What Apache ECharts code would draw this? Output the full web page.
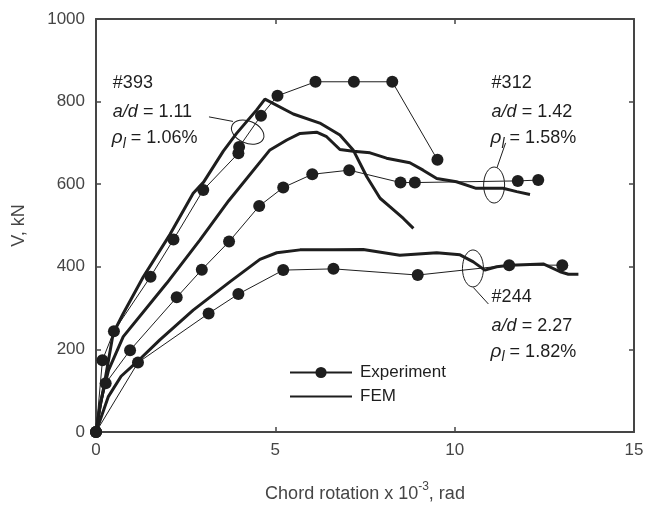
<!DOCTYPE html>
<html>
<head>
<meta charset="utf-8">
<script src="https://cdn.jsdelivr.net/npm/echarts@6/dist/echarts.min.js"></script>
<style>
  html, body { margin: 0; padding: 0; background: #fff; }
  #chart { width: 648px; height: 507px; }
</style>
</head>
<body>
<div id="chart"></div>
<script>
// x: chord rotation (x 10^-3 rad), y: shear V (kN)
const xTicks = [0, 5, 10, 15];
const yTicks = [0, 200, 400, 600, 800, 1000];

// experiment points
const exp393 = [[0, 0], [0.18, 174], [0.5, 244], [1.52, 376], [2.16, 466], [2.99, 586], [3.97, 675], [3.99, 690], [4.6, 766], [5.06, 814], [6.12, 848], [7.19, 848], [8.26, 848], [9.52, 659]];
const exp312 = [[0, 0], [0.27, 118], [0.95, 198], [2.25, 326], [2.95, 393], [3.71, 461], [4.55, 547], [5.22, 592], [6.03, 624], [7.06, 634], [8.49, 604], [8.89, 604], [11.76, 608], [12.33, 610]];
const exp244 = [[0, 0], [1.17, 168], [3.14, 287], [3.97, 334], [5.22, 392], [6.62, 395], [8.97, 380], [11.52, 404], [13.0, 404]];

// FEM curves
const fem393 = [[0, 0], [0.12, 65], [0.25, 125], [0.48, 239], [0.76, 287], [1.32, 376], [2.06, 478], [2.71, 578], [3.0, 605], [3.55, 680], [3.92, 723], [4.48, 780], [4.71, 806], [5.5, 770], [6.24, 748], [6.8, 719], [7.17, 683], [7.55, 618], [7.92, 566], [8.2, 545], [8.57, 517], [8.85, 493]];
const fem312 = [[0, 0], [0.12, 70], [0.35, 150], [0.76, 231], [1.97, 360], [2.9, 465], [3.7, 560], [4.85, 683], [5.32, 707], [5.69, 723], [6.15, 726], [6.43, 715], [6.8, 684], [7.17, 680], [7.64, 676], [8.1, 663], [8.75, 652], [9.12, 634], [9.5, 614], [10.05, 606], [10.6, 590], [11.35, 590], [11.73, 582], [12.1, 575]];
const fem244 = [[0, 0], [0.34, 85], [0.7, 135], [1.17, 172], [1.78, 223], [2.71, 295], [3.74, 364], [4.57, 418], [5.04, 434], [5.69, 441], [6.62, 441], [7.45, 442], [8.47, 428], [9.5, 434], [10.15, 429], [10.52, 412], [10.84, 392], [11.17, 400], [11.54, 404], [12.47, 407], [12.94, 388], [13.17, 382], [13.45, 382]];

const specimens = ['#393', '#312', '#244'];
const adValues = ['1.11', '1.42', '2.27'];
const rhoValues = ['1.06%', '1.58%', '1.82%'];

const font = '"Liberation Sans", Arial, sans-serif';
const axisColor = '#454545';
const inkColor = '#1e1e1e';

const chart = echarts.init(document.getElementById('chart'));

const expStyle = {
  type: 'line',
  name: 'Experiment',
  symbol: 'circle',
  symbolSize: 12,
  color: inkColor,
  itemStyle: { color: inkColor },
  lineStyle: { color: inkColor, width: 1 },
  z: 3
};
const femStyle = {
  type: 'line',
  name: 'FEM',
  showSymbol: false,
  symbol: 'none',
  color: inkColor,
  itemStyle: { color: inkColor },
  lineStyle: { color: inkColor, width: 3 },
  z: 2
};

const baseAxis = {
  type: 'value',
  axisLine: { onZero: false, lineStyle: { color: axisColor, width: 2 } },
  axisTick: { inside: true, length: 5, lineStyle: { color: axisColor, width: 1.5 } },
  splitLine: { show: false }
};

const option = {
  animation: false,
  backgroundColor: '#fff',
  grid: { left: 96, right: 14, top: 19, bottom: 75, containLabel: false, outerBoundsMode: 'none' },
  legend: {
    data: ['Experiment', { name: 'FEM', itemStyle: { opacity: 0 } }],
    orient: 'vertical',
    left: 284,
    top: 359,
    itemWidth: 62,
    itemHeight: 14,
    itemGap: 7,
    textStyle: { fontFamily: font, fontSize: 17, color: inkColor, padding: [0, 0, 0, 3] },
    selectedMode: false
  },
  xAxis: [
    Object.assign({}, baseAxis, {
      min: xTicks[0], max: xTicks[xTicks.length - 1], interval: 5,
      position: 'bottom',
      axisLabel: { fontFamily: font, fontSize: 17, color: axisColor, margin: 10 },
      name: '{a|Chord rotation x 10}{s|-3}{a|, rad}',
      nameLocation: 'middle',
      nameGap: 49,
      nameTextStyle: {
        rich: {
          a: { fontFamily: font, fontSize: 18, color: axisColor, lineHeight: 26 },
          s: { fontFamily: font, fontSize: 12, color: axisColor, lineHeight: 12, verticalAlign: 'top' }
        }
      }
    }),
    Object.assign({}, baseAxis, {
      min: xTicks[0], max: xTicks[xTicks.length - 1], interval: 5,
      position: 'top',
      axisLabel: { show: false }
    })
  ],
  yAxis: [
    Object.assign({}, baseAxis, {
      min: yTicks[0], max: yTicks[yTicks.length - 1], interval: 200,
      position: 'left',
      axisLabel: { fontFamily: font, fontSize: 17, color: axisColor, margin: 11, formatter: (v) => String(v) },
      name: 'V, kN',
      nameLocation: 'middle',
      nameGap: 68,
      nameTextStyle: { fontFamily: font, fontSize: 18, color: axisColor }
    }),
    Object.assign({}, baseAxis, {
      min: yTicks[0], max: yTicks[yTicks.length - 1], interval: 200,
      position: 'right',
      axisLabel: { show: false }
    })
  ],
  series: [
    Object.assign({ data: fem393 }, femStyle),
    Object.assign({ data: fem312 }, femStyle),
    Object.assign({ data: fem244 }, femStyle),
    Object.assign({ data: exp393 }, expStyle),
    Object.assign({ data: exp312 }, expStyle),
    Object.assign({ data: exp244 }, expStyle)
  ]
};

chart.setOption(option);

// annotation placement (data coords)
const notePlace = [
  { label: [0.47, 845], ell: [4.23, 726], rx: 17, ry: 11, rot: -0.4, lead: [[3.15, 763], [3.82, 752]] },
  { label: [11.03, 845], ell: [11.1, 598], rx: 10.5, ry: 18, rot: 0, lead: [[11.18, 640], [11.42, 700]] },
  { label: [11.03, 328], ell: [10.51, 396], rx: 10.5, ry: 18.5, rot: 0, lead: [[10.52, 350], [10.94, 310]] }
];

const noteRich = {
  n: { fontFamily: font, fontSize: 18, fill: inkColor, lineHeight: 26 },
  i: { fontFamily: font, fontSize: 18, fontStyle: 'italic', fill: inkColor, lineHeight: 26 },
  r: { fontFamily: font, fontSize: 19, fontStyle: 'italic', fill: inkColor, lineHeight: 26 },
  s: { fontFamily: font, fontSize: 14, fontStyle: 'italic', fill: inkColor, lineHeight: 14, verticalAlign: 'bottom' }
};

const toPx = (p) => chart.convertToPixel({ gridIndex: 0 }, p);
const graphics = [];
notePlace.forEach((n, i) => {
  const t = toPx(n.label);
  const c = toPx(n.ell);
  const l0 = toPx(n.lead[0]);
  const l1 = toPx(n.lead[1]);
  graphics.push({
    type: 'text', x: t[0], y: t[1],
    style: { text: '{n|' + specimens[i] + '}', verticalAlign: 'middle', rich: noteRich }
  });
  graphics.push({
    type: 'text', x: t[0], y: t[1] + 29,
    style: { text: '{i|a/d}{n| = ' + adValues[i] + '}', verticalAlign: 'middle', rich: noteRich }
  });
  graphics.push({
    type: 'text', x: t[0] - 1, y: t[1] + 55,
    style: { text: '{r|ρ}{s|l}{n| = ' + rhoValues[i] + '}', verticalAlign: 'middle', rich: noteRich }
  });
  graphics.push({
    type: 'ellipse', x: c[0], y: c[1], rotation: n.rot,
    shape: { cx: 0, cy: 0, rx: n.rx, ry: n.ry },
    style: { fill: 'none', stroke: inkColor, lineWidth: 1 }
  });
  graphics.push({
    type: 'line',
    shape: { x1: l0[0], y1: l0[1], x2: l1[0], y2: l1[1] },
    style: { stroke: inkColor, lineWidth: 1 }
  });
});

chart.setOption({ graphic: graphics });
</script>
</body>
</html>
